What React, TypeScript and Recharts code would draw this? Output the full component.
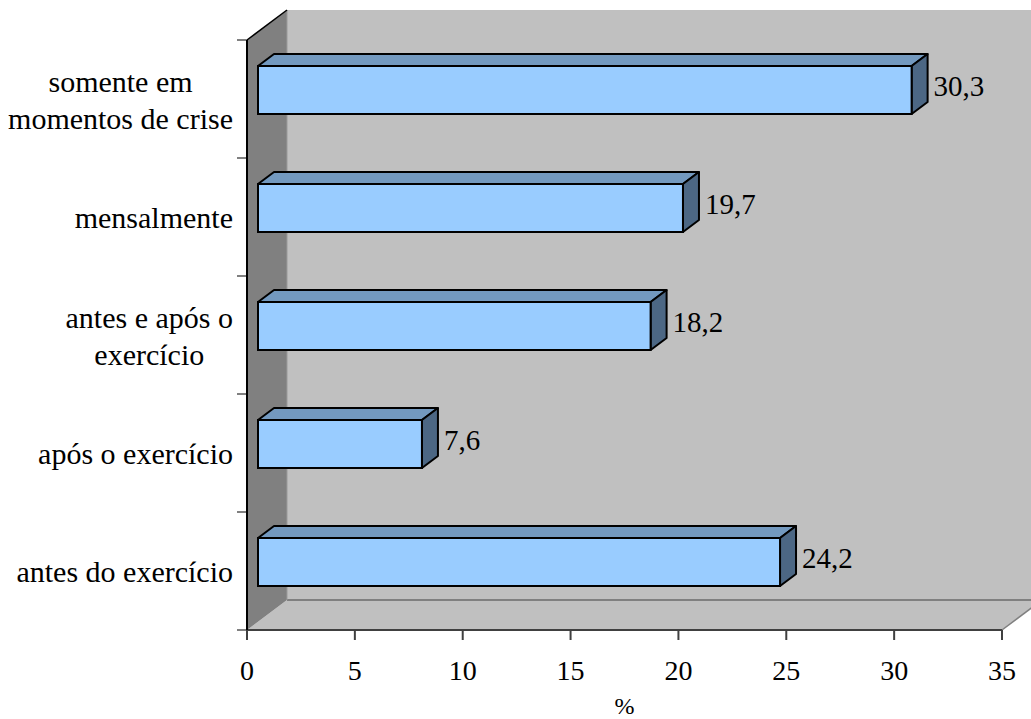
import React from "react";
import { BarChart, Bar, XAxis, YAxis } from "recharts";

const CATEGORIES = [
  "somente em\nmomentos de crise",
  "mensalmente",
  "antes e após o\nexercício",
  "após o exercício",
  "antes do exercício",
];
const VALUES = [30.3, 19.7, 18.2, 7.6, 24.2];
const X_TICKS = [0, 5, 10, 15, 20, 25, 30, 35];
const X_DOMAIN: [number, number] = [0, 35];
const X_LABEL = "%";

const W = 1031;
const H = 719;
const PLOT = { left: 247, top: 40, right: 1002, bottom: 630 };
const WALL = { dx: 40, dy: -30 };
const BAR_SHIFT = { dx: 11, dy: -9 };
const BAR_DEPTH = { dx: 16, dy: -12 };
const FONT = "Liberation Serif, DejaVu Serif, serif";
const LABEL_SIZE = 30;
const LINE_H = 37;

const data = CATEGORIES.map((name, i) => ({ name, value: VALUES[i] }));

let ctx: CanvasRenderingContext2D | null = null;
function textWidth(s: string, size: number) {
  if (!ctx) ctx = document.createElement("canvas").getContext("2d");
  if (!ctx) return s.length * size * 0.45;
  ctx.font = `${size}px Liberation Serif`;
  return ctx.measureText(s).width;
}

function CategoryTick(props: any) {
  const { y, payload } = props;
  const lines = String(payload.value).split("\n");
  const block = Math.max(...lines.map((l) => textWidth(l, LABEL_SIZE)));
  const cx = PLOT.left - 14 - block / 2;
  const first = y + 11 - ((lines.length - 1) * LINE_H) / 2;
  return (
    <text
      x={cx}
      y={first}
      textAnchor="middle"
      style={{ fontFamily: FONT, fontSize: LABEL_SIZE }}
      fill="#000"
    >
      {lines.map((l, i) => (
        <tspan key={i} x={cx} y={first + i * LINE_H}>
          {l}
        </tspan>
      ))}
    </text>
  );
}

function Bar3D(props: any) {
  const { x, y, width, height, payload } = props;
  const fx = x + BAR_SHIFT.dx;
  const fy = y + BAR_SHIFT.dy;
  const { dx, dy } = BAR_DEPTH;
  const w = width;
  const h = height;
  const top = `${fx},${fy} ${fx + w},${fy} ${fx + w + dx},${fy + dy} ${fx + dx},${fy + dy}`;
  const side = `${fx + w},${fy} ${fx + w + dx},${fy + dy} ${fx + w + dx},${fy + h + dy} ${fx + w},${fy + h}`;
  return (
    <g>
      <polygon points={top} fill="#7399bf" stroke="#000" strokeWidth={2} strokeLinejoin="round" />
      <polygon points={side} fill="#4c6784" stroke="#000" strokeWidth={2} strokeLinejoin="round" />
      <rect x={fx} y={fy} width={w} height={h} fill="#99ccff" stroke="#000" strokeWidth={2} />
      <text
        x={fx + w + dx + 6}
        y={fy + h / 2 + 6}
        style={{ fontFamily: FONT, fontSize: 29 }}
        fill="#000"
      >
        {payload.value.toFixed(1).replace(".", ",")}
      </text>
    </g>
  );
}

function Walls() {
  const { left: L, top: T, right: R, bottom: B } = PLOT;
  const { dx, dy } = WALL;
  const n = CATEGORIES.length;
  const band = (B - T) / n;
  return (
    <svg width={W} height={H} style={{ position: "absolute", left: 0, top: 0 }}>
      <rect x={L + dx} y={T + dy} width={R - L} height={B - T} fill="#c0c0c0" />
      <polygon
        points={`${L},${B} ${L + dx},${B + dy} ${R + dx},${B + dy} ${R},${B}`}
        fill="#c0c0c0"
      />
      <polygon
        points={`${L},${T} ${L + dx},${T + dy} ${L + dx},${B + dy} ${L},${B}`}
        fill="#808080"
      />
      <line x1={L + dx} y1={B + dy} x2={R + dx} y2={B + dy} stroke="#808080" strokeWidth={2} />
      <line x1={L + dx} y1={T + dy} x2={L + dx} y2={B + dy} stroke="#9a9a9a" strokeWidth={1} />
      <line x1={R} y1={B} x2={R + dx} y2={B + dy} stroke="#808080" strokeWidth={1.5} />
      <line x1={L} y1={T} x2={L + dx} y2={T + dy} stroke="#000" strokeWidth={1.5} />
      {Array.from({ length: n + 1 }, (_, i) => (
        <line
          key={i}
          x1={L - 10}
          x2={L}
          y1={T + i * band}
          y2={T + i * band}
          stroke="#808080"
          strokeWidth={2}
        />
      ))}
    </svg>
  );
}

export default function App() {
  return (
    <div
      style={{
        position: "absolute",
        left: 0,
        top: 0,
        width: W,
        height: H,
        background: "#fff",
        fontFamily: FONT,
      }}
    >
      <Walls />
      <div style={{ position: "absolute", left: 0, top: 0 }}>
        <BarChart
          width={W}
          height={H}
          data={data}
          layout="vertical"
          margin={{ top: PLOT.top, right: W - PLOT.right, bottom: 0, left: 0 }}
        >
          <XAxis
            type="number"
            domain={X_DOMAIN}
            ticks={X_TICKS}
            height={H - PLOT.bottom}
            tickSize={10}
            tickMargin={20}
            stroke="#404040"
            strokeWidth={2}
            tick={{ fill: "#000", fontSize: 28, style: { fontFamily: FONT } }}
            label={{
              value: X_LABEL,
              position: "insideBottom",
              offset: 5,
              fill: "#000",
              fontSize: 24,
              style: { fontFamily: FONT },
            }}
          />
          <YAxis
            type="category"
            dataKey="name"
            width={PLOT.left}
            tickLine={false}
            stroke="#000"
            strokeWidth={2}
            tick={<CategoryTick />}
            interval={0}
          />
          <Bar dataKey="value" barSize={48} shape={<Bar3D />} isAnimationActive={false} />
        </BarChart>
      </div>
    </div>
  );
}
